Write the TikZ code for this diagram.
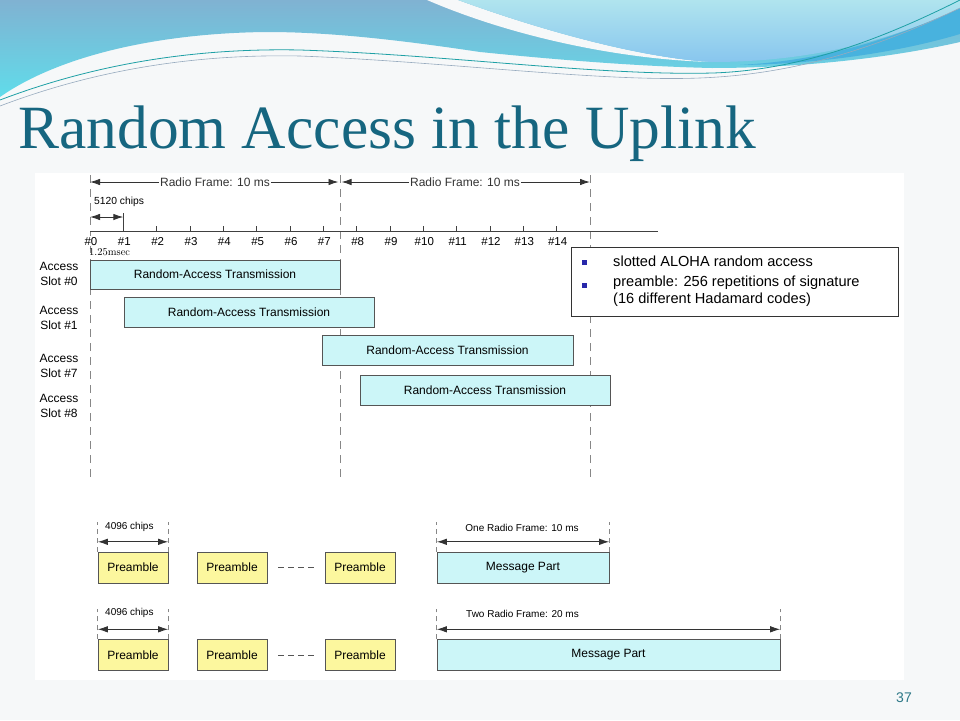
\documentclass[tikz,border=0pt]{standalone}
\usepackage{fontspec}
\setsansfont{Liberation Sans}
\newfontfamily\titlefont{Liberation Serif}
\usetikzlibrary{arrows.meta, positioning, calc}
\definecolor{slidebg}{RGB}{246,248,249}
\definecolor{titleteal}{RGB}{22,102,128}
\definecolor{pageteal}{RGB}{45,120,135}
\definecolor{swooshtop}{RGB}{128,178,210}
\definecolor{swooshcyan}{RGB}{96,220,234}
\definecolor{swooshlight}{RGB}{176,228,238}
\definecolor{swooshsky}{RGB}{136,198,238}
\definecolor{swooshblue}{RGB}{72,178,222}
\definecolor{wavelineteal}{RGB}{30,160,165}
\definecolor{wavelinegray}{RGB}{150,170,190}
\definecolor{slotcyan}{RGB}{204,246,248}
\definecolor{preyellow}{RGB}{252,247,158}
\definecolor{boxgray}{RGB}{85,85,85}
\definecolor{dashgray}{RGB}{135,135,135}
\definecolor{bulletblue}{RGB}{40,40,170}

\begin{document}
\begin{tikzpicture}[
    x=1pt, y=-1pt,
    slotbox/.style={draw=boxgray, fill=slotcyan, minimum width=250pt, minimum height=30pt, inner sep=0pt, font=\sffamily\fontsize{12}{14}\selectfont},
    prebox/.style={draw=boxgray, fill=preyellow, minimum width=70pt, minimum height=31pt, inner sep=0pt, font=\sffamily\fontsize{12}{14}\selectfont},
    msgbox/.style={draw=boxgray, fill=slotcyan, minimum height=31pt, inner sep=0pt, font=\sffamily\fontsize{12}{14}\selectfont},
    slotlabel/.style={align=center, inner sep=0pt, font=\sffamily\fontsize{12}{15}\selectfont},
    ticklabel/.style={anchor=base, inner sep=0pt, font=\sffamily\fontsize{11.5}{13}\selectfont},
    dimlabel/.style={inner sep=0pt, font=\sffamily\fontsize{10}{12}\selectfont},
    framelabel/.style={fill=white, inner sep=1pt, font=\sffamily\fontsize{12}{14}\selectfont},
    frameline/.style={dashgray, line width=0.9pt, dash pattern=on 8pt off 6pt},
    dimline/.style={dashgray, line width=0.8pt, dash pattern=on 5pt off 4pt},
    dimarrow/.style={{Latex[length=10pt,width=6.5pt]}-{Latex[length=10pt,width=6.5pt]}, line width=0.9pt, black!80},
    legendtext/.style={anchor=west, inner sep=0pt, font=\sffamily\fontsize{14.6}{17}\selectfont}
]
    \useasboundingbox (0,0) rectangle (960,720);
    \fill[slidebg] (0,0) rectangle (960,720);

    % Header swooshes
    \shade[top color=swooshtop, bottom color=swooshcyan] (0,0) -- (960,0) -- (960,42) .. controls (890,58) and (800,68) .. (712,68) .. controls (620,66) and (520,56) .. (480,52) .. controls (400,40) and (330,32) .. (267,32) .. controls (160,33) and (60,55) .. (0,97) -- cycle;
    \fill[swooshblue] (960,8) -- (960,34) .. controls (900,52) and (820,64) .. (740,65) .. controls (830,60) and (900,36) .. (960,8) -- cycle;
    \fill[slidebg] (427,0) -- (458,0) .. controls (540,30) and (640,58) .. (712,62) .. controls (630,60) and (520,40) .. (427,0) -- cycle;
    \shade[top color=swooshlight, bottom color=swooshsky] (458,0) -- (960,0) -- (960,8) .. controls (900,36) and (820,62) .. (712,62) .. controls (640,58) and (540,30) .. (458,0) -- cycle;
    \draw[wavelineteal, line width=0.8pt] (0,100) .. controls (100,62) and (200,48) .. (300,50) .. controls (450,55) and (600,76) .. (713,73) .. controls (800,70) and (880,40) .. (960,0);
    \draw[wavelinegray, line width=0.6pt] (0,106) .. controls (100,68) and (200,54) .. (300,56) .. controls (450,62) and (600,82) .. (700,78) .. controls (800,74) and (880,46) .. (960,8);

    % Title
    \node[anchor=base west, inner sep=0pt, text=titleteal, font=\titlefont\fontsize{61.5}{70}\selectfont] (title) at (18,148) {Random Access in the Uplink};

    % Diagram area
    \fill[white] (35,173) rectangle (904,680);

    % Frame boundaries
    \foreach \x in {90,340,590}
        \draw[frameline] (\x,175) -- (\x,480);

    % Radio frames
    \coordinate (f0) at (90,182);
    \coordinate (f1) at (340,182);
    \coordinate (f2) at (590,182);
    \draw[dimarrow, shorten >=1.5pt] (f0) -- node[framelabel] (rf1) {Radio Frame: 10 ms} (f1);
    \draw[dimarrow, shorten <=1.5pt] (f1) -- node[framelabel] (rf2) {Radio Frame: 10 ms} (f2);

    % Slot axis
    \coordinate (a0) at (90,231);
    \coordinate (aend) at (658,231);
    \draw[line width=0.9pt, black!75] (a0) -- (aend);
    \foreach \k in {1,...,14}
        \draw[line width=0.9pt, black!75] ({90+33.333*\k},231) -- ++(0,-5);
    \foreach \k in {0,...,14}
        \node[ticklabel, fill=white, inner sep=0.5pt] (t\k) at ({90+33.333*\k+1},245) {\#\k};
    \coordinate (s1) at (123.3,231);
    \draw[line width=0.9pt, black!75] (s1) -- ++(0,-18);
    \draw[dimarrow] (90,217) coordinate (c0) -- (123.3,217) coordinate (c1);
    \node[dimlabel, anchor=west, font=\sffamily\fontsize{10.3}{12}\selectfont] (chips) at (94,202) {5120 chips};
    \node[anchor=west, inner sep=0pt, font=\rmfamily\fontsize{10.5}{12}\selectfont] (msec) at (89,252) {1.25msec};

    % Access slots
    \node[slotbox, minimum height=29pt] (ra0) at (215,274.5) {Random-Access Transmission};
    \node[slotbox] (ra1) at (249,312) {Random-Access Transmission};
    \node[slotbox, minimum width=251pt] (ra7) at (447.5,350) {Random-Access Transmission};
    \node[slotbox] (ra8) at (485,390) {Random-Access Transmission};

    \node[slotlabel] (as0) at (59,273.5) {Access\\Slot \#0};
    \node[slotlabel] (as1) at (59,318) {Access\\Slot \#1};
    \node[slotlabel] (as7) at (59,365.5) {Access\\Slot \#7};
    \node[slotlabel] (as8) at (59,405.5) {Access\\Slot \#8};

    % Legend
    \node[draw=black!80, line width=0.9pt, fill=white, minimum width=327pt, minimum height=69pt] (legend) at (734.5,281.5) {};
    \fill[bulletblue] (581.5,259.5) rectangle ++(5,5);
    \fill[bulletblue] (581.5,282.5) rectangle ++(5,5);
    \node[legendtext] (l1) at (613,261) {slotted ALOHA random access};
    \node[legendtext] (l2) at (613,283) {preamble: 256 repetitions of signature};
    \node[legendtext] (l3) at (613,300) {(16 different Hadamard codes)};

    % Preamble + message, 10 ms
    \node[prebox] (p1a) at (133,567.5) {Preamble};
    \node[prebox] (p1b) at (232,567.5) {Preamble};
    \node[prebox] (p1c) at (360,567.5) {Preamble};
    \node[msgbox, minimum width=172pt] (m1) at (523,567.5) {Message Part};
    \draw[boxgray, line width=0.8pt, dash pattern=on 6pt off 4pt, shorten <=11pt, shorten >=10pt] (p1b) -- (p1c);
    \draw[dimline] (p1a.north west) -- ++(0,-30);
    \draw[dimline] (p1a.north east) -- ++(0,-30);
    \draw[dimarrow] ([yshift=10pt]p1a.north west) -- ([yshift=10pt]p1a.north east);
    \node[dimlabel, anchor=west] (k1) at (105,527) {4096 chips};
    \draw[dimline] (m1.north west) -- ++(0,-30);
    \draw[dimline] (m1.north east) -- ++(0,-30);
    \draw[dimarrow] ([yshift=10pt]m1.north west) -- ([yshift=10pt]m1.north east);
    \node[dimlabel] (o1) at (522,528) {One Radio Frame: 10 ms};

    % Preamble + message, 20 ms
    \node[prebox] (p2a) at (133,655) {Preamble};
    \node[prebox] (p2b) at (232,655) {Preamble};
    \node[prebox] (p2c) at (360,655) {Preamble};
    \node[msgbox, minimum width=343pt] (m2) at (608.5,655) {Message Part};
    \draw[boxgray, line width=0.8pt, dash pattern=on 6pt off 4pt, shorten <=11pt, shorten >=10pt] (p2b) -- (p2c);
    \draw[dimline] (p2a.north west) -- ++(0,-30);
    \draw[dimline] (p2a.north east) -- ++(0,-30);
    \draw[dimarrow] ([yshift=10pt]p2a.north west) -- ([yshift=10pt]p2a.north east);
    \node[dimlabel, anchor=west] (k2) at (105,613) {4096 chips};
    \draw[dimline] (m2.north west) -- ++(0,-30);
    \draw[dimline] (m2.north east) -- ++(0,-30);
    \draw[dimarrow] ([yshift=10pt]m2.north west) -- ([yshift=10pt]m2.north east);
    \node[dimlabel, anchor=west] (o2) at (466,614) {Two Radio Frame: 20 ms};

    % Page number
    \node[anchor=base east, inner sep=0pt, text=pageteal, font=\sffamily\fontsize{14}{16}\selectfont] (pagenum) at (912,702) {37};
\end{tikzpicture}
\end{document}
